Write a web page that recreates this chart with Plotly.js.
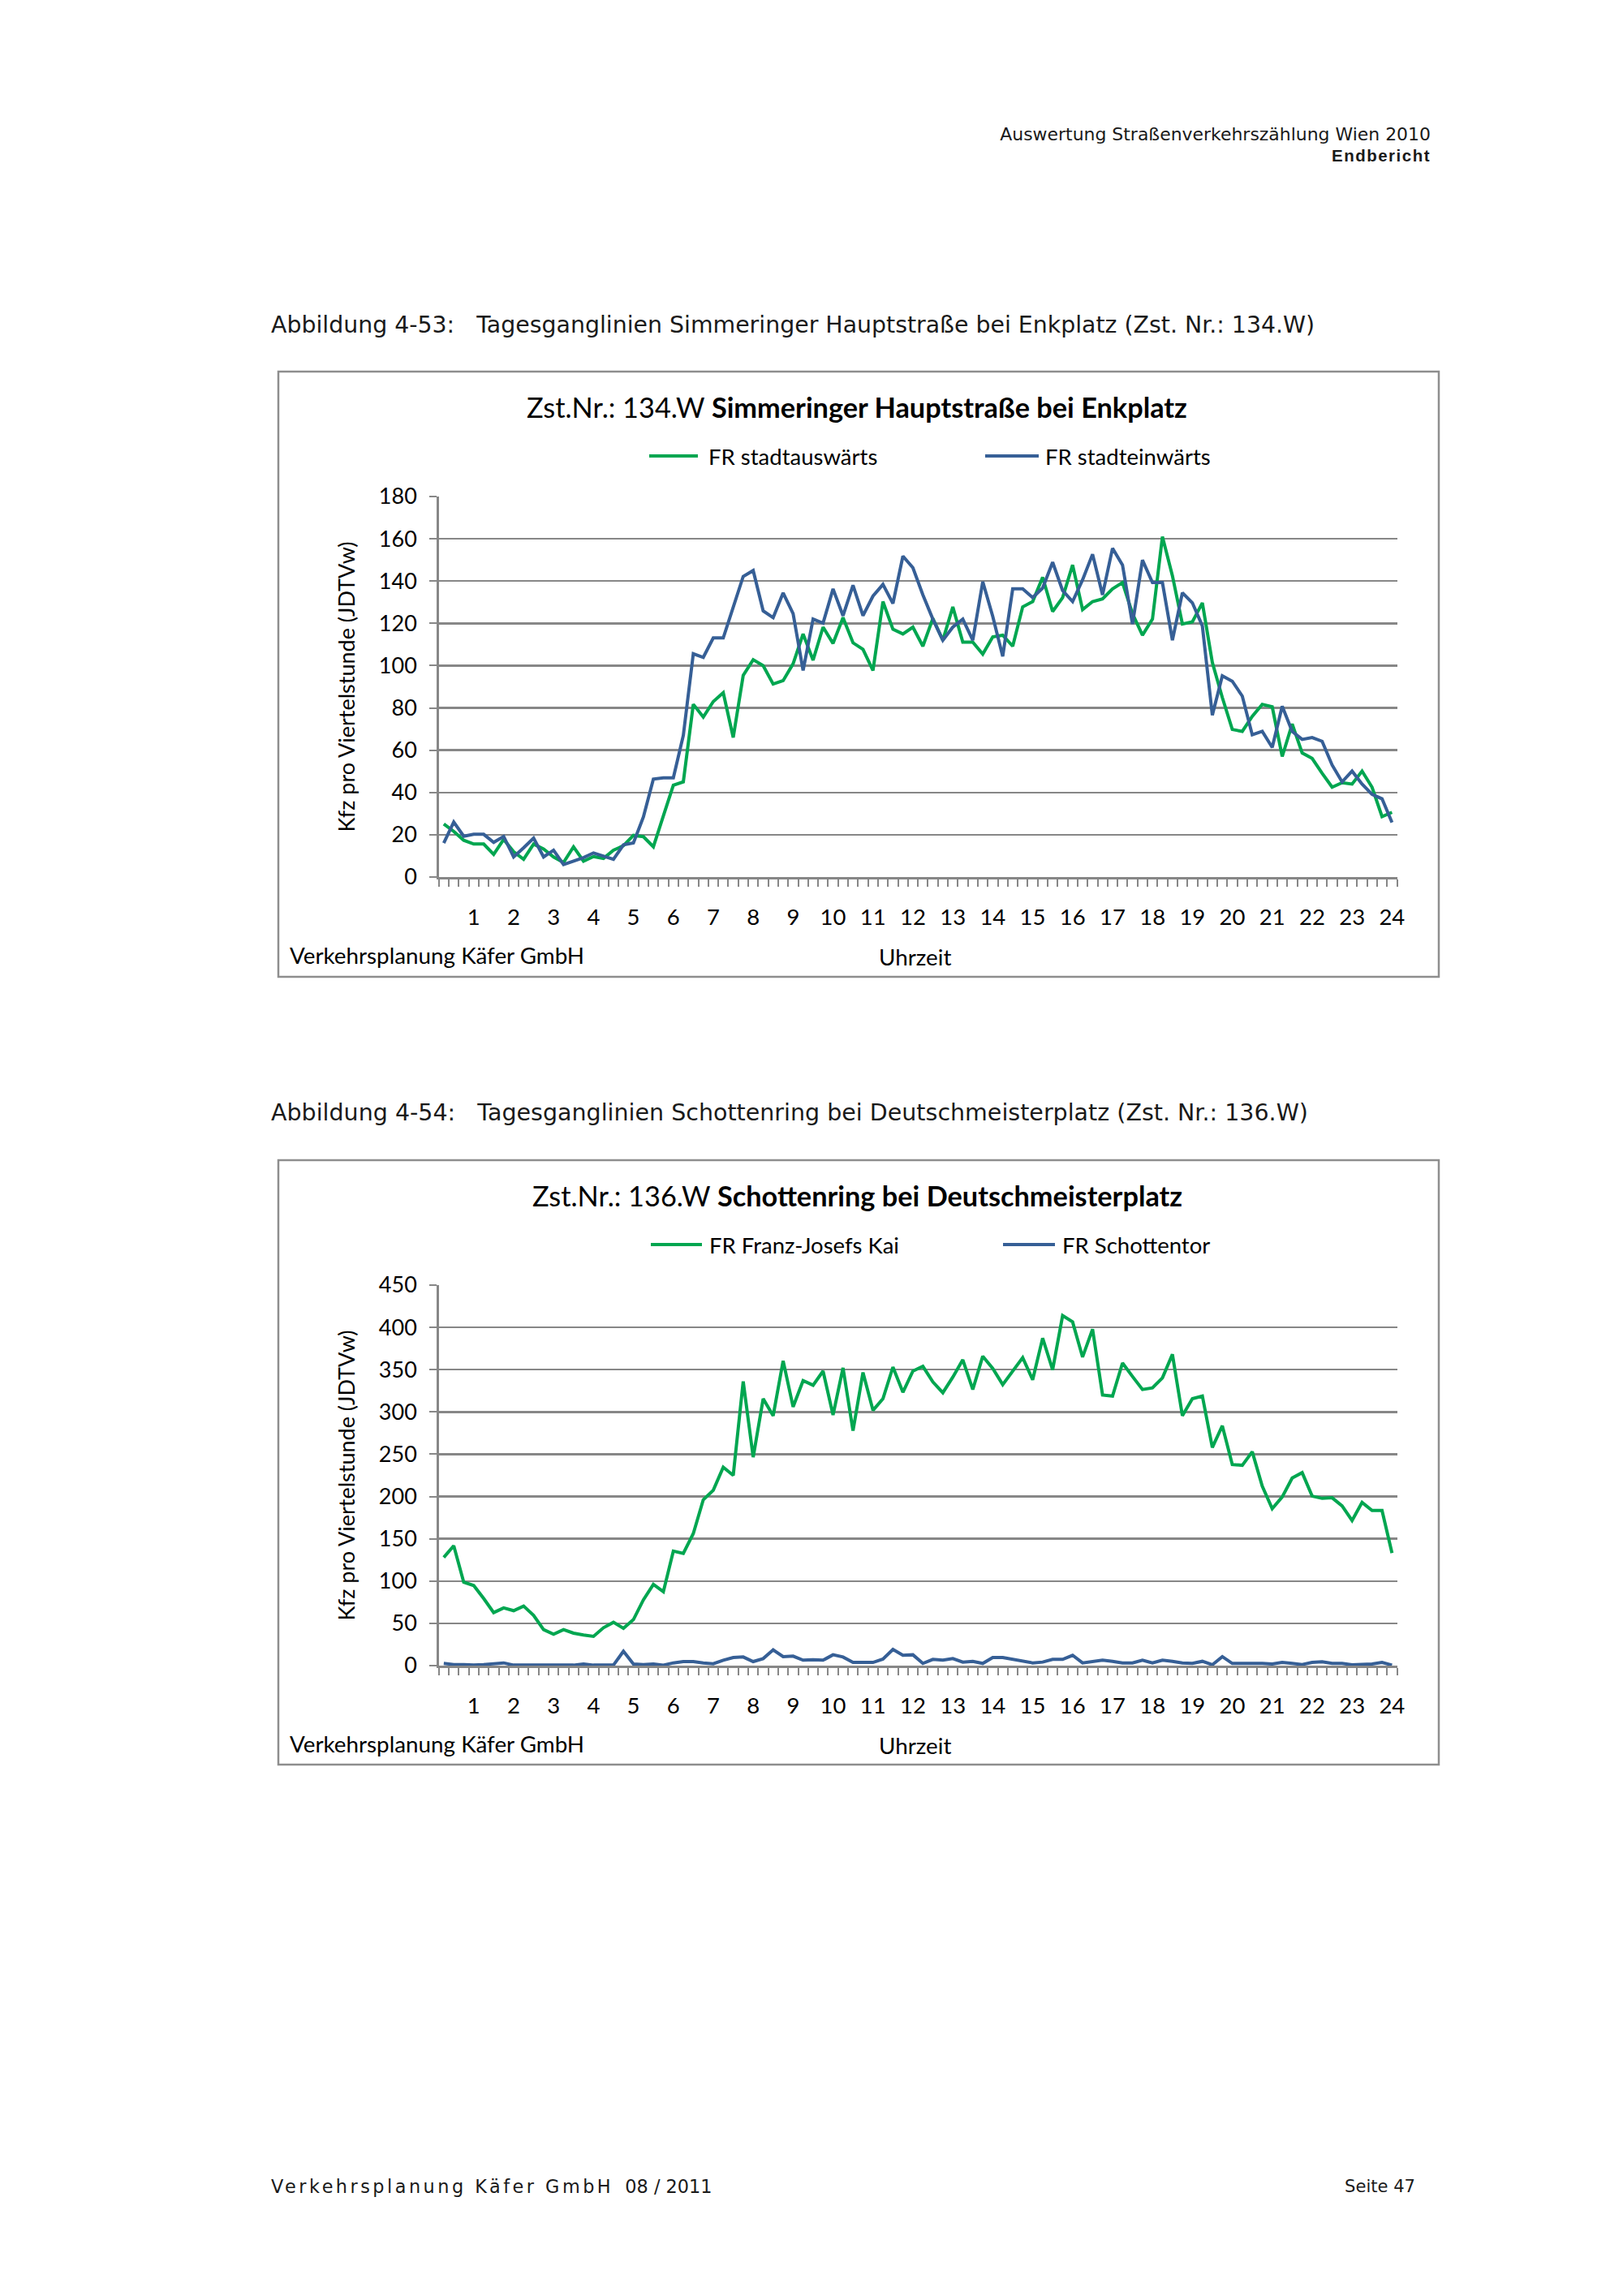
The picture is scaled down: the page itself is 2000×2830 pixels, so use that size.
<!DOCTYPE html>
<html>
<head>
<meta charset="utf-8">
<script src="https://cdn.plot.ly/plotly-3.0.1.min.js"></script>
<style>
html,body{margin:0;padding:0;background:#fff;}
#page{position:relative;width:2000px;height:2830px;overflow:hidden;background:#fff;}
#plot{position:absolute;left:0;top:0;width:2000px;height:2830px;}
.t{position:absolute;white-space:nowrap;line-height:1;color:#1a1a1a;font-family:"DejaVu Sans",sans-serif;}
</style>
</head>
<body>
<div id="page">
  <div id="plot"></div>
  <div class="t" id="hdr1">Auswertung Straßenverkehrszählung Wien 2010</div>
  <div class="t" id="hdr2" style="font-family:'Liberation Sans',sans-serif;font-weight:bold;letter-spacing:1.5px;">Endbericht</div>
  <div class="t" id="cap1">Abbildung 4-53:&nbsp;&nbsp;&nbsp;Tagesganglinien Simmeringer Hauptstraße bei Enkplatz (Zst. Nr.: 134.W)</div>
  <div class="t" id="cap2">Abbildung 4-54:&nbsp;&nbsp;&nbsp;Tagesganglinien Schottenring bei Deutschmeisterplatz (Zst. Nr.: 136.W)</div>
  <div class="t" id="ftr1"><span style="letter-spacing:3.5px;">Verkehrsplanung Käfer GmbH</span>&nbsp;&nbsp;08 / 2011</div>
  <div class="t" id="ftr2">Seite 47</div>
</div>
<script>
// ---------- DATA ----------
const categories = [
 "00:15","00:30","00:45","01:00","01:15","01:30","01:45","02:00","02:15","02:30","02:45","03:00",
 "03:15","03:30","03:45","04:00","04:15","04:30","04:45","05:00","05:15","05:30","05:45","06:00",
 "06:15","06:30","06:45","07:00","07:15","07:30","07:45","08:00","08:15","08:30","08:45","09:00",
 "09:15","09:30","09:45","10:00","10:15","10:30","10:45","11:00","11:15","11:30","11:45","12:00",
 "12:15","12:30","12:45","13:00","13:15","13:30","13:45","14:00","14:15","14:30","14:45","15:00",
 "15:15","15:30","15:45","16:00","16:15","16:30","16:45","17:00","17:15","17:30","17:45","18:00",
 "18:15","18:30","18:45","19:00","19:15","19:30","19:45","20:00","20:15","20:30","20:45","21:00",
 "21:15","21:30","21:45","22:00","22:15","22:30","22:45","23:00","23:15","23:30","23:45","24:00"
];
const hourCategories = ["01:00","02:00","03:00","04:00","05:00","06:00","07:00","08:00","09:00","10:00","11:00","12:00",
 "13:00","14:00","15:00","16:00","17:00","18:00","19:00","20:00","21:00","22:00","23:00","24:00"];
const hourLabels = ["1","2","3","4","5","6","7","8","9","10","11","12","13","14","15","16","17","18","19","20","21","22","23","24"];

// Chart 1: Zst.Nr. 134.W Simmeringer Hauptstraße bei Enkplatz
const s134_stadtauswaerts = [
 25.1,21.6,17.4,15.6,15.6,10.7,17.8,12,8.4,15.6,13.3,9.5,
 6.9,14.3,7.5,9.7,8.8,12.7,14.8,19.7,19.1,14.3,28.9,43.4,
 45,81.7,75.7,83,87.2,66,95.4,102.8,100,91.3,92.9,100.9,
 115,102.6,118.2,110.5,122.7,110.8,107.7,97.7,130.3,117.2,115,118.2,
 109.2,122.3,112,127.8,111.1,111.1,105.4,113.6,114.4,109.2,127.8,130.3,
 141.8,125.6,132.2,147.6,126.5,130.3,131.6,136.3,139.3,124.6,114.4,122,
 161,142.5,119.7,120.7,129.7,101.5,84.9,69.8,68.9,76,81.7,80.5,
 57,72.4,58.7,56.1,49.1,42.5,44.6,44,50.1,42.5,28.6,30.6
];
const s134_stadteinwaerts = [
 16.1,26,19.3,20.2,20.2,16.4,19.2,9.5,13.8,18.4,9.5,12.7,
 5.9,7.5,9.2,11.4,9.7,8.4,15.2,16.1,28.4,46.3,46.9,46.9,
 67,105.6,103.9,113.1,113.1,127.1,142.2,145,125.9,122.7,134.4,124.6,
 97.7,122,120.1,136.3,123.6,138,123.6,132.9,138.4,129.4,151.8,146.3,
 133.5,122,112,118.2,122,112,139.7,123.3,104.4,136.3,136.3,132.2,
 136.7,148.9,135.5,130.3,140.6,152.7,133.5,155.5,147.6,119.7,149.9,139.3,
 139.3,112,134.5,129.7,118.8,76.6,95.2,92.6,85.6,67.3,68.9,61.3,
 80.8,68.9,65.1,66,64.2,53,45,50.1,44,39.1,37,25.8
];

// Chart 2: Zst.Nr. 136.W Schottenring bei Deutschmeisterplatz
const s136_franzJosefsKai = [
 128,141.8,98.6,94.7,79.4,62.7,68.2,65,70.4,59.5,42.6,37.1,
 42.6,38.4,36.2,34.6,44.8,51.2,44.2,54.4,77.8,96,87.4,135.4,
 132.8,156.2,196.2,207.4,234.6,225,336.1,246.5,315.6,295.5,360.4,306,
 337.1,331.6,348.3,296.4,352.1,277.8,346.7,301.9,315.6,353.1,323.3,348.3,
 354,335.5,322.7,341.2,361.7,326.5,365.9,351.5,332.3,348.3,364.3,338,
 387.3,349.9,413.9,406.5,364.9,397.9,320.1,318.8,357.9,341.9,326.5,328.4,
 340.3,368.1,295.5,315.6,318.8,258,283.6,237.8,236.9,252.9,212.2,185.7,
 199.4,221.8,228.2,200.4,197.8,198.5,188.9,171.6,193,183.4,183.4,133.2
];
const s136_schottentor = [
 2.6,1.3,1.3,0.6,1.3,2.2,3.2,0.6,0.6,0.6,0.6,1.3,
 0.6,0.6,1.9,0.6,0.6,0.6,17,1.9,1.3,1.9,0.6,3.2,
 4.8,4.8,3.2,2.2,6.4,9.6,10.2,4.8,8.3,18.6,10.6,11.2,
 6.4,7,6.4,12.8,10.2,3.8,3.8,3.8,7.7,19.2,12.2,12.8,
 2.6,7.4,6.4,8.3,4.2,5.1,2.6,9.6,9.6,7.4,5.8,3.2,
 4.2,7.4,7.4,12.2,3.2,4.5,6.4,5.1,3.2,3.2,6.4,3.2,
 6.4,5.1,3.2,2.6,5.1,1,10.6,2.6,2.6,3.2,2.6,1.9,
 3.8,2.6,1.3,3.8,4.5,2.6,2.6,1,1,1.9,3.8,0.6
];

const seriesNames1 = ["FR stadtauswärts","FR stadteinwärts"];
const seriesNames2 = ["FR Franz-Josefs Kai","FR Schottentor"];
const titles = ["Zst.Nr.: 134.W <b>Simmeringer Hauptstraße bei Enkplatz</b>",
                "Zst.Nr.: 136.W <b>Schottenring bei Deutschmeisterplatz</b>"];
const yTitle = "Kfz pro Viertelstunde (JDTVw)";
const xTitle = "Uhrzeit";
const sourceText = "Verkehrsplanung Käfer GmbH";

// ---------- STYLE / LAYOUT ----------
const GREEN = '#00A650', BLUE = '#365F96', GRID = '#878787', BORDER = '#8E8E8E';
const FONT = 'Lato, "Open Sans", sans-serif';
const W = 2000, H = 2830;
const P = v => v / W, Q = v => 1 - v / H;
const X0 = 540.7, X1 = 1721.5;

const tickText = categories.map(c => { const k = hourCategories.indexOf(c); return k >= 0 ? hourLabels[k] : ''; });

function xAxis(anchor) {
  return {domain:[P(X0),P(X1)], anchor:anchor, type:'category', tickson:'boundaries',
    range:[-0.5, categories.length - 0.5], autorange:false,
    ticks:'outside', ticklen:9, tickwidth:2, tickcolor:GRID,
    tickmode:'array', tickvals:categories, ticktext:tickText, tickangle:0,
    showgrid:false, showline:true, linecolor:GRID, linewidth:2.5, zeroline:false,
    ticklabelstandoff:23, tickfont:{family:FONT,size:27.5,color:'#000'}, fixedrange:true};
}
function yAxis(anchor, top, bottom, maxV, step) {
  return {domain:[Q(bottom),Q(top)], anchor:anchor, range:[0,maxV], tick0:0, dtick:step,
    ticks:'outside', ticklen:9, tickwidth:2, tickcolor:GRID,
    showgrid:true, gridcolor:GRID, gridwidth:2.5, showline:true, linecolor:GRID, linewidth:2.5,
    zeroline:false, ticklabelstandoff:10, tickfont:{family:FONT,size:27,color:'#000'}, fixedrange:true};
}

const traces = [
  {x:categories, y:s134_stadtauswaerts, name:seriesNames1[0], xaxis:'x', yaxis:'y', mode:'lines', line:{color:GREEN,width:4}},
  {x:categories, y:s134_stadteinwaerts, name:seriesNames1[1], xaxis:'x', yaxis:'y', mode:'lines', line:{color:BLUE,width:4}},
  {x:categories, y:s136_franzJosefsKai, name:seriesNames2[0], xaxis:'x2', yaxis:'y2', mode:'lines', line:{color:GREEN,width:4}},
  {x:categories, y:s136_schottentor, name:seriesNames2[1], xaxis:'x2', yaxis:'y2', mode:'lines', line:{color:BLUE,width:4}}
];

const charts = [
  {box:[343,458,1773,1204], plotTop:612, plotBottom:1081, titleY:501, legY:562,
   leg:[[800,860,871],[1214,1280,1286]], names:seriesNames1, title:titles[0]},
  {box:[343,1430,1773,2175], plotTop:1584, plotBottom:2053, titleY:1474, legY:1534,
   leg:[[802,865,872],[1236,1300,1307]], names:seriesNames2, title:titles[1]}
];

const shapes = [], annotations = [];
charts.forEach(c => {
  shapes.push({type:'rect', xref:'paper', yref:'paper', x0:P(c.box[0]), x1:P(c.box[2]), y0:Q(c.box[3]), y1:Q(c.box[1]),
    line:{color:BORDER,width:2.5}, fillcolor:'rgba(0,0,0,0)', layer:'below'});
  [GREEN, BLUE].forEach((col, k) => {
    const L = c.leg[k];
    shapes.push({type:'line', xref:'paper', yref:'paper', x0:P(L[0]), x1:P(L[1]), y0:Q(c.legY), y1:Q(c.legY),
      line:{color:col,width:4}});
    annotations.push({xref:'paper', yref:'paper', x:P(L[2]), y:Q(c.legY), xanchor:'left', yanchor:'middle',
      text:c.names[k], showarrow:false, font:{family:FONT,size:27.5,color:'#000'}});
  });
  annotations.push({xref:'paper', yref:'paper', x:P(1056), y:Q(c.titleY), xanchor:'center', yanchor:'middle',
    text:c.title, showarrow:false, font:{family:FONT,size:34.3,color:'#000'}});
  annotations.push({xref:'paper', yref:'paper', x:P(426), y:Q((c.plotTop+c.plotBottom)/2), xanchor:'center', yanchor:'middle',
    text:yTitle, textangle:-90, showarrow:false, font:{family:FONT,size:27,color:'#000'}});
  annotations.push({xref:'paper', yref:'paper', x:P(355), y:Q(c.plotBottom+96), xanchor:'left', yanchor:'middle',
    text:sourceText, showarrow:false, font:{family:FONT,size:27.8,color:'#000'}});
  annotations.push({xref:'paper', yref:'paper', x:P(1127), y:Q(c.plotBottom+98), xanchor:'center', yanchor:'middle',
    text:xTitle, showarrow:false, font:{family:FONT,size:27.8,color:'#000'}});
});

const layout = {
  width:W, height:H, margin:{l:0,r:0,t:0,b:0}, showlegend:false,
  paper_bgcolor:'rgba(0,0,0,0)', plot_bgcolor:'#fff', font:{family:FONT,color:'#000'},
  xaxis:xAxis('y'), yaxis:yAxis('x',612,1081,180,20),
  xaxis2:xAxis('y2'), yaxis2:yAxis('x2',1584,2053,450,50),
  shapes:shapes, annotations:annotations
};

Plotly.newPlot('plot', traces, layout, {staticPlot:true, displayModeBar:false});

// ---------- page text placement ----------
function place(id, o) {
  const el = document.getElementById(id);
  el.style.fontSize = o.fs + 'px';
  let r = el.getBoundingClientRect();
  if (o.w) { el.style.fontSize = (o.fs * o.w / r.width) + 'px'; r = el.getBoundingClientRect(); }
  el.style.left = ((o.right != null) ? (o.right - r.width) : o.left) + 'px';
  el.style.top = (o.cy - r.height / 2) + 'px';
}
function layoutText() {
  place('hdr1', {fs:22, w:531, right:1763, cy:166});
  place('hdr2', {fs:22, w:121, right:1763, cy:192});
  place('cap1', {fs:26, w:1287, left:334, cy:401});
  place('cap2', {fs:26, w:1278, left:334, cy:1372});
  place('ftr1', {fs:22, w:545, left:334, cy:2695});
  place('ftr2', {fs:22, w:87, right:1744, cy:2695});
}
if (document.fonts && document.fonts.ready) document.fonts.ready.then(layoutText); else layoutText();
layoutText();
</script>
</body>
</html>
